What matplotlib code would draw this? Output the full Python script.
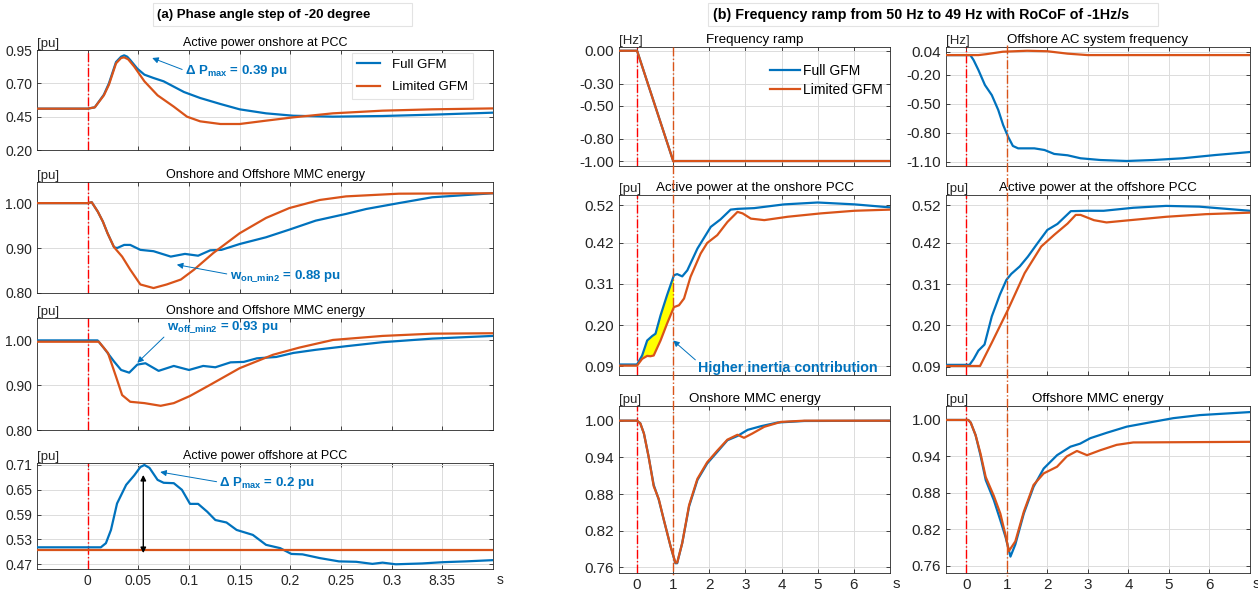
import numpy as np
import matplotlib
matplotlib.use('Agg')
import matplotlib.pyplot as plt
import matplotlib.transforms as mtransforms
from matplotlib.lines import Line2D
from matplotlib.patches import Rectangle

plt.rcParams['font.family'] = ['Liberation Sans', 'DejaVu Sans']
plt.rcParams['mathtext.fontset'] = 'custom'
plt.rcParams['mathtext.rm'] = 'Liberation Sans'
plt.rcParams['mathtext.bf'] = 'Liberation Sans:bold'
plt.rcParams['mathtext.it'] = 'Liberation Sans:italic'

BLUE = '#0072BD'
ORANGE = '#D95319'
DARK = '#262626'
LABELS = ['Full GFM', 'Limited GFM']

# ---------------- (a) phase angle step data ----------------
# active power onshore at PCC
a1_t_full = [-0.05, 0.0, 0.007, 0.016, 0.021, 0.028, 0.033, 0.036, 0.039, 0.042, 0.049, 0.056,
             0.065, 0.075, 0.095, 0.111, 0.131, 0.150, 0.176, 0.203, 0.242, 0.291, 0.340, 0.40]
a1_full = [0.51, 0.51, 0.52, 0.615, 0.70, 0.86, 0.90, 0.91, 0.90, 0.875, 0.81, 0.765,
           0.74, 0.715, 0.635, 0.59, 0.545, 0.505, 0.475, 0.457, 0.45, 0.455, 0.465, 0.48]
a1_t_lim = [-0.05, 0.0, 0.007, 0.016, 0.021, 0.028, 0.033, 0.036, 0.040, 0.046, 0.056, 0.069,
            0.085, 0.098, 0.111, 0.131, 0.150, 0.176, 0.203, 0.242, 0.291, 0.340, 0.40]
a1_lim = [0.51, 0.51, 0.52, 0.61, 0.69, 0.85, 0.89, 0.895, 0.88, 0.825, 0.715, 0.61,
          0.525, 0.45, 0.415, 0.395, 0.395, 0.42, 0.445, 0.475, 0.495, 0.505, 0.512]

# onshore MMC energy
a2_t_full = [-0.05, 0.0, 0.004, 0.010, 0.015, 0.0196, 0.026, 0.029, 0.036, 0.042, 0.052, 0.065,
             0.082, 0.096, 0.109, 0.121, 0.132, 0.150, 0.176, 0.199, 0.225, 0.255, 0.275, 0.307,
             0.340, 0.40]
a2_full = [1.0, 1.0, 1.002, 0.981, 0.959, 0.933, 0.902, 0.90, 0.907, 0.907, 0.896, 0.893,
           0.881, 0.887, 0.883, 0.895, 0.896, 0.909, 0.924, 0.941, 0.961, 0.976, 0.987, 1.0,
           1.013, 1.022]
a2_t_lim = [-0.05, 0.0, 0.004, 0.010, 0.015, 0.0196, 0.026, 0.034, 0.042, 0.052, 0.065, 0.078,
            0.092, 0.105, 0.124, 0.150, 0.176, 0.199, 0.229, 0.255, 0.307, 0.40]
a2_lim = [1.0, 1.0, 1.002, 0.981, 0.959, 0.933, 0.902, 0.881, 0.852, 0.819, 0.811, 0.819,
          0.830, 0.852, 0.889, 0.933, 0.967, 0.989, 1.007, 1.015, 1.021, 1.022]

# offshore MMC energy
a3_t_full = [-0.05, 0.0098, 0.016, 0.026, 0.033, 0.041, 0.049, 0.057, 0.070, 0.085, 0.100, 0.114,
             0.126, 0.141, 0.154, 0.167, 0.186, 0.203, 0.225, 0.255, 0.291, 0.340, 0.40]
a3_full = [1.0, 1.0, 0.983, 0.953, 0.934, 0.928, 0.946, 0.949, 0.932, 0.943, 0.934, 0.943,
           0.940, 0.951, 0.952, 0.960, 0.963, 0.972, 0.979, 0.987, 0.996, 1.004, 1.010]
a3_t_lim = [-0.05, 0.011, 0.020, 0.028, 0.034, 0.042, 0.056, 0.072, 0.085, 0.101, 0.121, 0.150,
            0.183, 0.209, 0.242, 0.291, 0.340, 0.40]
a3_lim = [0.997, 0.997, 0.972, 0.919, 0.878, 0.863, 0.860, 0.854, 0.860, 0.876, 0.901, 0.938,
          0.968, 0.984, 1.001, 1.010, 1.015, 1.016]

# active power offshore at PCC
a4_t_full = [-0.05, 0.013, 0.018, 0.023, 0.029, 0.038, 0.046, 0.052, 0.056, 0.061, 0.069, 0.075,
             0.085, 0.093, 0.101, 0.109, 0.118, 0.126, 0.137, 0.147, 0.163, 0.176, 0.190, 0.201,
             0.212, 0.229, 0.248, 0.265, 0.281, 0.291, 0.304, 0.330, 0.350, 0.373, 0.40]
a4_full = [0.511, 0.511, 0.521, 0.553, 0.617, 0.662, 0.685, 0.705, 0.71, 0.703, 0.674, 0.667,
           0.666, 0.650, 0.616, 0.616, 0.597, 0.577, 0.571, 0.553, 0.541, 0.517, 0.509, 0.495,
           0.494, 0.485, 0.477, 0.476, 0.471, 0.474, 0.470, 0.472, 0.475, 0.477, 0.480]
a4_t_lim = [-0.05, 0.40]
a4_lim = [0.505, 0.505]

# ---------------- (b) frequency ramp data ----------------
b1_t = [-0.5, 0.0, 1.0, 7.0]
b1_full = [0.0, 0.0, -1.0, -1.0]
b1_lim = [0.0, 0.0, -1.0, -1.0]

b2_t_full = [-0.5, 0.1, 0.18, 0.30, 0.46, 0.63, 0.79, 0.91, 1.03, 1.15, 1.28, 1.68, 1.93, 2.17,
             2.50, 2.82, 3.31, 3.96, 4.61, 5.34, 6.15, 7.0]
b2_full = [0.005, 0.005, -0.046, -0.15, -0.305, -0.41, -0.565, -0.72, -0.84, -0.937, -0.962,
           -0.962, -0.979, -1.02, -1.034, -1.065, -1.083, -1.093, -1.083, -1.065, -1.031, -1.0]
b2_t_lim = [-0.5, 0.3, 0.5, 0.9, 1.5, 2.0, 2.5, 3.0, 7.0]
b2_lim = [0.005, 0.005, 0.015, 0.04, 0.05, 0.045, 0.02, 0.005, 0.005]

b3_t_full = [-0.5, 0.0, 0.14, 0.28, 0.42, 0.51, 0.65, 0.83, 1.02, 1.11, 1.25, 1.39, 1.67, 2.04,
             2.31, 2.59, 2.78, 3.24, 4.07, 5.0, 6.02, 7.0]
b3_full = [0.095, 0.095, 0.119, 0.159, 0.171, 0.177, 0.226, 0.28, 0.333, 0.336, 0.33, 0.346,
           0.404, 0.462, 0.482, 0.508, 0.51, 0.512, 0.522, 0.527, 0.522, 0.514]
b3_t_lim = [-0.5, 0.0, 0.14, 0.28, 0.37, 0.46, 0.65, 0.83, 1.02, 1.16, 1.30, 1.48, 1.76, 1.94,
            2.22, 2.5, 2.78, 2.92, 3.15, 3.52, 4.17, 5.09, 6.02, 7.0]
b3_lim = [0.092, 0.092, 0.110, 0.118, 0.117, 0.119, 0.159, 0.204, 0.248, 0.253, 0.271, 0.329,
          0.391, 0.419, 0.44, 0.475, 0.502, 0.498, 0.484, 0.48, 0.489, 0.498, 0.505, 0.508]

b4_t_full = [-0.5, 0.08, 0.18, 0.30, 0.45, 0.63, 0.83, 0.99, 1.11, 1.32, 1.52, 1.76, 2.0, 2.25,
             2.58, 2.98, 3.39, 4.12, 4.93, 5.75, 7.0]
b4_full = [0.095, 0.095, 0.11, 0.133, 0.149, 0.224, 0.282, 0.321, 0.337, 0.357, 0.383, 0.419,
           0.454, 0.47, 0.504, 0.505, 0.505, 0.513, 0.518, 0.516, 0.505]
b4_t_lim = [-0.5, 0.34, 0.63, 1.03, 1.44, 1.85, 2.17, 2.5, 2.7, 2.82, 3.15, 3.46, 3.94, 4.93,
            5.91, 7.0]
b4_lim = [0.092, 0.092, 0.154, 0.242, 0.339, 0.41, 0.441, 0.471, 0.494, 0.494, 0.48, 0.474,
          0.479, 0.489, 0.496, 0.50]

b5_t_full = [-0.5, 0.0, 0.09, 0.19, 0.32, 0.46, 0.60, 0.74, 0.93, 1.06, 1.11, 1.25, 1.44, 1.67,
             1.94, 2.22, 2.5, 2.78, 3.06, 3.43, 3.89, 4.63, 7.0]
b5_full = [1.0, 1.0, 0.9956, 0.979, 0.941, 0.895, 0.871, 0.838, 0.794, 0.767, 0.767, 0.80,
           0.86, 0.903, 0.93, 0.949, 0.968, 0.975, 0.985, 0.991, 0.997, 0.9995, 1.0]
b5_t_lim = [-0.5, 0.0, 0.09, 0.19, 0.32, 0.46, 0.60, 0.74, 0.93, 1.06, 1.11, 1.25, 1.44, 1.67,
            1.94, 2.22, 2.5, 2.78, 2.96, 3.19, 3.52, 3.98, 4.63, 7.0]
b5_lim = [1.0, 1.0, 0.9956, 0.979, 0.941, 0.893, 0.872, 0.838, 0.794, 0.768, 0.768, 0.80,
          0.862, 0.905, 0.932, 0.951, 0.969, 0.977, 0.972, 0.979, 0.990, 0.998, 1.0, 1.0]

b6_t_full = [-0.5, 0.05, 0.11, 0.23, 0.35, 0.48, 0.68, 0.84, 0.97, 1.09, 1.21, 1.42, 1.66, 1.91,
             2.24, 2.57, 2.81, 3.06, 3.47, 3.96, 4.53, 5.11, 5.76, 7.0]
b6_full = [1.0, 1.0, 0.9956, 0.975, 0.942, 0.901, 0.868, 0.835, 0.807, 0.775, 0.795, 0.846,
           0.89, 0.92, 0.942, 0.956, 0.961, 0.97, 0.979, 0.989, 0.996, 1.003, 1.008, 1.013]
b6_t_lim = [-0.5, 0.05, 0.11, 0.23, 0.35, 0.48, 0.68, 0.84, 0.97, 1.05, 1.21, 1.42, 1.66, 1.91,
            2.24, 2.48, 2.73, 2.98, 3.3, 3.71, 4.12, 7.0]
b6_lim = [1.0, 1.0, 0.9956, 0.975, 0.945, 0.906, 0.875, 0.846, 0.81, 0.784, 0.80, 0.849,
          0.893, 0.912, 0.923, 0.94, 0.949, 0.942, 0.95, 0.959, 0.963, 0.964]

# tick labels
a_xticks = [0, 0.05, 0.1, 0.15, 0.2, 0.25, 0.3, 0.35]
a_xlabels = ['0', '0.05', '0.1', '0.15', '0.2', '0.25', '0.3', '8.35']
b_xticks = [0, 1, 2, 3, 4, 5, 6]


def style(ax, unit='[pu]', size=10):
    ax.grid(True, color='#dcdcdc', lw=0.7)
    ax.set_axisbelow(True)
    ax.tick_params(direction='in', top=True, right=True, length=3, width=0.6,
                   colors=DARK, labelsize=size)
    for s in ax.spines.values():
        s.set_color(DARK)
        s.set_linewidth(0.6)
    ax.text(0, 1.0, unit, transform=ax.transAxes, ha='left', va='bottom',
            fontsize=9.5, color=DARK)


fig = plt.figure(figsize=(12.58, 5.92), dpi=100)
W, H = 1258, 592


def add_ax(x0, x1, y0, y1):
    return fig.add_axes([x0 / W, 1 - y1 / H, (x1 - x0) / W, (y1 - y0) / H])


# ---------------- left column ----------------
left_rows = [(50, 150), (182, 293), (318, 430), (463, 569)]
left_axes = [add_ax(37, 493, r[0], r[1]) for r in left_rows]
left_data = [(a1_t_full, a1_full, a1_t_lim, a1_lim, (0.20, 0.95), [0.20, 0.45, 0.70, 0.95],
              'Active power onshore at PCC'),
             (a2_t_full, a2_full, a2_t_lim, a2_lim, (0.80, 1.047), [0.80, 0.90, 1.00],
              'Onshore and Offshore MMC energy'),
             (a3_t_full, a3_full, a3_t_lim, a3_lim, (0.80, 1.05), [0.80, 0.90, 1.00],
              'Onshore and Offshore MMC energy'),
             (a4_t_full, a4_full, a4_t_lim, a4_lim, (0.4586, 0.7148),
              [0.47, 0.53, 0.59, 0.65, 0.71], 'Active power offshore at PCC')]

for i, (ax, d) in enumerate(zip(left_axes, left_data)):
    tf, yf, tl, yl, ylim, yt, title = d
    style(ax)
    ax.plot(tf, yf, color=BLUE, lw=1.6, label=LABELS[0], zorder=3)
    ax.plot(tl, yl, color=ORANGE, lw=1.6, label=LABELS[1], zorder=3)
    ax.axvline(0, color='red', lw=1, ls='-.', zorder=2)
    ax.set_xlim(-0.05, 0.40)
    ax.set_ylim(*ylim)
    ax.set_yticks(yt)
    ax.set_yticklabels(['%.2f' % v for v in yt])
    ax.set_xticks(a_xticks)
    if i == 3:
        ax.set_xticklabels(a_xlabels)
        ax.text(1.008, -0.104, 's', transform=ax.transAxes, ha='left', va='center',
                fontsize=10, color=DARK)
    else:
        ax.set_xticklabels([])
    ax.set_title(title, fontsize=9, pad=3)

leg = left_axes[0].legend(loc='upper left', bbox_to_anchor=(0.69, 0.97), fontsize=9.5,
                          handlelength=1.75, handletextpad=0.9, labelspacing=0.8,
                          borderpad=0.4, borderaxespad=0, fancybox=False, framealpha=1)
leg.get_frame().set_edgecolor('#e3e3e3')
leg.get_frame().set_linewidth(0.8)

ann = dict(color=BLUE, fontweight='bold', fontsize=9.5, va='center', ha='left')
arr = dict(arrowstyle='-|>', color=BLUE, lw=0.7, mutation_scale=9, shrinkA=0, shrinkB=0)
left_axes[0].annotate('Δ P$_{\\mathbf{max}}$ = 0.39 pu', xy=(0.0637, 0.89),
                      xytext=(0.096, 0.79), arrowprops=dict(arr, relpos=(0, 0.55)), **ann)
left_axes[1].annotate('w$_{\\mathbf{on\\_min2}}$ = 0.88 pu', xy=(0.088, 0.863),
                      xytext=(0.140, 0.838), arrowprops=dict(arr, relpos=(0, 0.6)), **ann)
left_axes[2].annotate('w$_{\\mathbf{off\\_min2}}$ = 0.93 pu', xy=(0.049, 0.950),
                      xytext=(0.078, 1.03), arrowprops=dict(arr, relpos=(0, 0.0)), **ann)
left_axes[3].annotate('Δ P$_{\\mathbf{max}}$ = 0.2 pu', xy=(0.0716, 0.693),
                      xytext=(0.130, 0.6665), arrowprops=dict(arr, relpos=(0, 0.55)), **ann)
left_axes[3].annotate('', xy=(0.0549, 0.497), xytext=(0.0549, 0.686),
                      arrowprops=dict(arrowstyle='<|-|>', color='black', lw=1,
                                      mutation_scale=8, shrinkA=0, shrinkB=0))

# ---------------- right columns ----------------
cols = [(619, 890), (946, 1250)]
rows = [(47, 166), (195, 375), (406, 573)]
right_data = [
    [(b1_t, b1_full, b1_t, b1_lim, (-1.045, 0.034), [-1.00, -0.80, -0.50, -0.30, 0.00],
      'Frequency ramp', '[Hz]'),
     (b2_t_full, b2_full, b2_t_lim, b2_lim, (-1.145, 0.089), [-1.10, -0.80, -0.50, -0.20, 0.04],
      'Offshore AC system frequency', '[Hz]')],
    [(b3_t_full, b3_full, b3_t_lim, b3_lim, (0.067, 0.547), [0.09, 0.20, 0.31, 0.42, 0.52],
      'Active power at the onshore PCC', '[pu]'),
     (b4_t_full, b4_full, b4_t_lim, b4_lim, (0.068, 0.547), [0.09, 0.20, 0.31, 0.42, 0.52],
      'Active power at the offshore PCC', '[pu]')],
    [(b5_t_full, b5_full, b5_t_lim, b5_lim, (0.751, 1.024), [0.76, 0.82, 0.88, 0.94, 1.00],
      'Onshore MMC energy', '[pu]'),
     (b6_t_full, b6_full, b6_t_lim, b6_lim, (0.748, 1.023), [0.76, 0.82, 0.88, 0.94, 1.00],
      'Offshore MMC energy', '[pu]')],
]

right_axes = [[None, None] for _ in rows]
for r, (y0, y1) in enumerate(rows):
    for c, (x0, x1) in enumerate(cols):
        ax = add_ax(x0, x1, y0, y1)
        right_axes[r][c] = ax
        tf, yf, tl, yl, ylim, yt, title, unit = right_data[r][c]
        style(ax, unit, size=11)
        ax.plot(tf, yf, color=BLUE, lw=1.6, label=LABELS[0], zorder=3)
        ax.plot(tl, yl, color=ORANGE, lw=1.6, label=LABELS[1], zorder=3)
        ax.axvline(0, color='red', lw=1, ls='-.', zorder=2)
        ax.set_xlim(-0.5, 7)
        ax.set_ylim(*ylim)
        ax.set_yticks(yt)
        ax.set_yticklabels(['%.2f' % v for v in yt])
        ax.set_xticks(b_xticks)
        if r == 2:
            ax.set_xticklabels([str(v) for v in b_xticks])
            ax.text(1.01, -0.066, 's', transform=ax.transAxes, ha='left', va='center',
                    fontsize=11, color=DARK)
        else:
            ax.set_xticklabels([])
        ax.set_title(title, fontsize=9.6, pad=3)

right_axes[0][0].legend(loc='upper left', bbox_to_anchor=(0.557, 0.857), fontsize=10,
                        frameon=False, handlelength=2.15, handletextpad=0.2,
                        labelspacing=0.37, borderpad=0, borderaxespad=0)

# yellow area between the curves during the ramp
axp = right_axes[1][0]
upper = [(t, v) for t, v in zip(b3_t_full, b3_full) if 0 <= t <= 1.02]
lower = [(t, v) for t, v in zip(b3_t_lim, b3_lim) if 0 <= t <= 1.02]
poly = upper + lower[::-1]
axp.fill([p[0] for p in poly], [p[1] for p in poly], color='#FFFF00', zorder=2.5, lw=0)
axp.annotate('Higher inertia contribution', xy=(1.0, 0.159), xytext=(1.69, 0.086),
             color=BLUE, fontweight='bold', fontsize=10.3, ha='left', va='center',
             arrowprops=dict(arr, relpos=(0, 0.9)))

# t = 1 s marker spanning the whole column
for c, top in zip(range(2), [47, 45]):
    ax = right_axes[0][c]
    tr = mtransforms.blended_transform_factory(ax.transData, fig.transFigure)
    fig.add_artist(Line2D([1, 1], [1 - top / H, 1 - 576 / H], transform=tr,
                          color=ORANGE, lw=1, ls='-.', zorder=5))

# headers
for (bx0, bx1, tx, txt, fs) in [(153, 412, 157, '(a) Phase angle step of -20 degree', 9.5),
                                (708, 1158, 713,
                                 '(b) Frequency ramp from 50 Hz to 49 Hz with RoCoF of -1Hz/s',
                                 10.3)]:
    fig.add_artist(Rectangle((bx0 / W, 1 - 26 / H), (bx1 - bx0) / W, 23 / H,
                             transform=fig.transFigure, facecolor='white',
                             edgecolor='#e3e3e3', lw=0.8))
    fig.text(tx / W, 1 - 15 / H, txt, ha='left', va='center', fontsize=fs,
             fontweight='bold', color='black')

fig.savefig('out.png', dpi=100)
